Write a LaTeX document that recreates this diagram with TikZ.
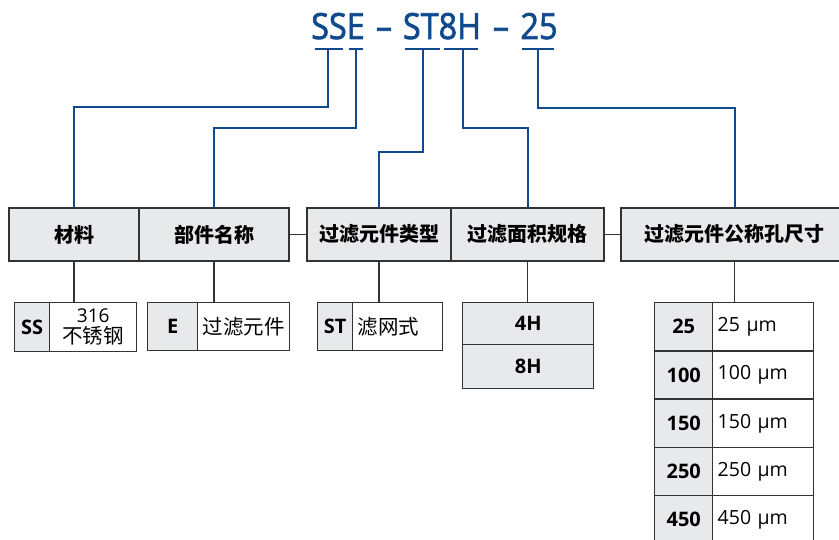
\documentclass[tikz,border=0pt]{standalone}
\usepackage{fontspec}
\usepackage{graphicx}
\setmainfont{Open Sans}
\newfontfamily\cjk{Noto Sans CJK SC}
\newfontfamily\ttlfont[FakeBold=2]{Open Sans}
\definecolor{tblue}{RGB}{16,74,140}
\definecolor{boxfill}{RGB}{232,233,235}
\definecolor{boxline}{RGB}{51,51,51}
\begin{document}
\begin{tikzpicture}[x=1pt,y=-1pt,
  blueline/.style={draw=tblue,line width=2pt},
  grayline/.style={draw=boxline,line width=1.4pt},
  hdr/.style={draw=boxline,line width=1.4pt,fill=boxfill,minimum height=53pt,inner sep=0pt,font=\cjk\bfseries\fontsize{20}{22}\selectfont},
  cellg/.style={draw=boxline,line width=1.4pt,fill=boxfill,inner sep=0pt,anchor=north west,font=\bfseries\fontsize{20}{22}\selectfont},
  cellw/.style={draw=boxline,line width=1.4pt,fill=white,inner xsep=5pt,inner ysep=0pt,anchor=north west,align=left,font=\fontsize{19.5}{22}\selectfont},
  ttl/.style={text=tblue,font=\ttlfont\fontsize{36}{40}\selectfont,anchor=base,inner sep=0pt}
]
\useasboundingbox (0,0) rectangle (839,540);

% title
\node[ttl] (t1) at (338,39) {\scalebox{0.9}[1]{SSE}};
\node[ttl] (d1) at (384,39) {\scalebox{0.9}[1]{–}};
\node[ttl] (t2) at (442,39) {\scalebox{0.9}[1]{ST8H}};
\node[ttl] (d2) at (501,39) {\scalebox{0.9}[1]{–}};
\node[ttl] (t3) at (539,39) {\scalebox{0.9}[1]{25}};

% underlines
\draw[blueline] (315,49) -- (343,49);
\draw[blueline] (349,49) -- (363,49);
\draw[blueline] (405,49) -- (440,49);
\draw[blueline] (444,49) -- (478,49);
\draw[blueline] (522,49) -- (554,49);
\coordinate (u1) at (328,49);
\coordinate (u2) at (356,49);
\coordinate (u3) at (423,49);
\coordinate (u4) at (463,49);
\coordinate (u5) at (538,49);

% header boxes
\node[hdr,minimum width=130pt] (h1) at (74,234.5) {材料};
\node[hdr,minimum width=150pt] (h2) at (214,234.5) {部件名称};
\node[hdr,minimum width=144pt] (h3) at (379,234.5) {过滤元件类型};
\node[hdr,minimum width=153pt] (h4) at (527.5,234.5) {过滤面积规格};
\node[hdr,minimum width=227pt] (h5) at (734.5,234.5) {过滤元件公称孔尺寸};

% blue connectors
\draw[blueline] (u1) -- ++(0,58) -| (h1.north);
\draw[blueline] (u2) -- ++(0,79) -| (h2.north);
\draw[blueline] (u3) -- ++(0,103) -| (h3.north);
\draw[blueline] (u4) -- ++(0,79) -| (h4.north);
\draw[blueline] (u5) -- ++(0,59) -| (h5.north);

\draw[grayline] (h2.east) -- (h3.west);
\draw[grayline] (h4.east) -- (h5.west);

% material
\node[cellg,minimum width=35pt,minimum height=49pt] (ssk) at (14,302) {SS};
\node[cellw,align=center,inner xsep=0pt,minimum width=87pt,minimum height=49pt,font=\fontsize{19}{21.5}\selectfont] (ssv) at (49,302) {316\\{\cjk\fontsize{20.5}{21.5}\selectfont 不锈钢}};
\draw[grayline] (h1.south) -- (h1.south |- ssv.north);

% part name
\node[cellg,minimum width=50pt,minimum height=48pt] (ek) at (147,302) {E};
\node[cellw,text width=82pt,minimum height=48pt,font=\cjk\fontsize{20.5}{22}\selectfont] (ev) at (197,302) {过滤元件};
\draw[grayline] (h2.south) -- (h2.south |- ev.north);

% element type
\node[cellg,minimum width=35pt,minimum height=48pt] (stk) at (317,302) {ST};
\node[cellw,text width=80pt,minimum height=48pt,font=\cjk\fontsize{20.5}{22}\selectfont] (stv) at (352,302) {滤网式};
\draw[grayline] (h3.south) -- (h3.south |- stv.north);

% area
\node[cellg,minimum width=131pt,minimum height=42pt] (r4) at (462,302) {4H};
\node[cellg,minimum width=131pt,minimum height=44pt] (r8) at (462,344) {8H};
\draw[grayline] (h4.south) -- (h4.south |- r4.north);

% pore sizes
\node[cellg,minimum width=58pt,minimum height=48.25pt] (p1k) at (654,302) {25};
\node[cellw,text width=91pt,minimum height=48.25pt] (p1v) at (712,302) {25 μm};
\node[cellg,minimum width=58pt,minimum height=48.25pt] (p2k) at (654,350.25) {100};
\node[cellw,text width=91pt,minimum height=48.25pt] (p2v) at (712,350.25) {100 μm};
\node[cellg,minimum width=58pt,minimum height=48.25pt] (p3k) at (654,398.5) {150};
\node[cellw,text width=91pt,minimum height=48.25pt] (p3v) at (712,398.5) {150 μm};
\node[cellg,minimum width=58pt,minimum height=48.25pt] (p4k) at (654,446.75) {250};
\node[cellw,text width=91pt,minimum height=48.25pt] (p4v) at (712,446.75) {250 μm};
\node[cellg,minimum width=58pt,minimum height=48.25pt] (p5k) at (654,495) {450};
\node[cellw,text width=91pt,minimum height=48.25pt] (p5v) at (712,495) {450 μm};
\draw[grayline] (h5.south) -- (h5.south |- p1k.north);
\end{tikzpicture}
\end{document}
